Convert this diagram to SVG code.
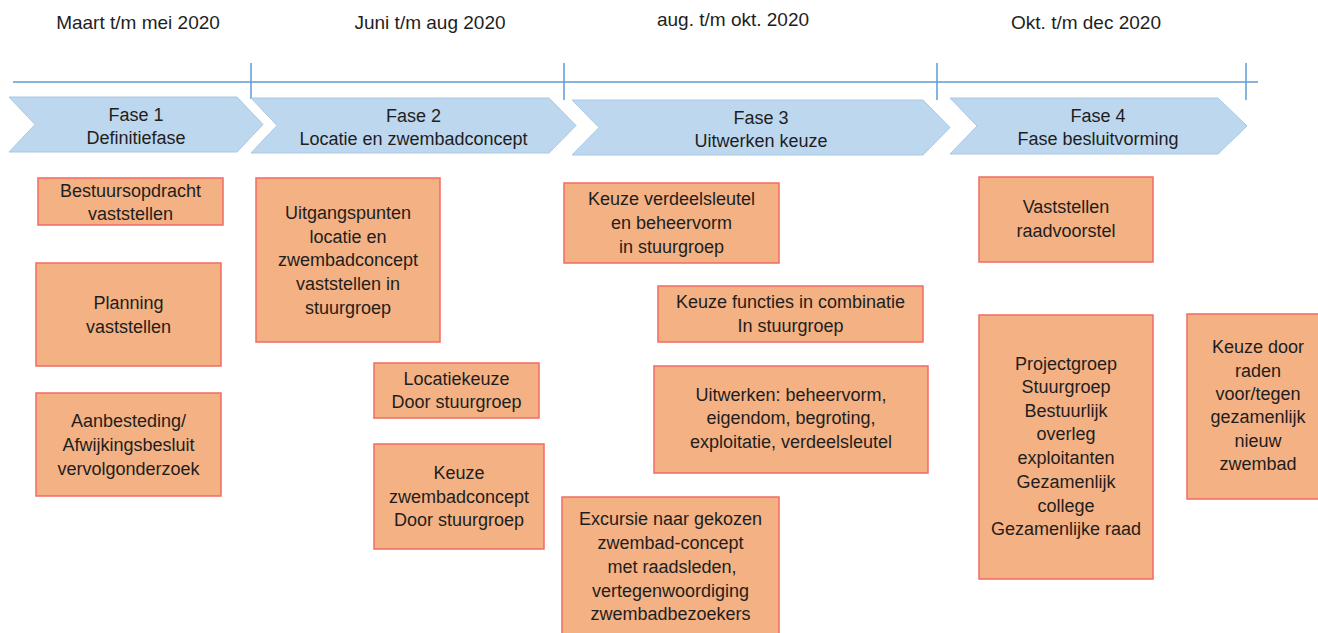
<svg xmlns="http://www.w3.org/2000/svg" width="1318" height="633" viewBox="0 0 1318 633">
<style>
  text { font-family: "Liberation Sans", Arial, sans-serif; font-size: 18px; fill: #1e1e1e; text-anchor: middle; }
  .period { font-size: 19px; }
  .phase { fill: #BDD7EE; stroke: #A8C8E6; stroke-width: 1; }
  .box { fill: #F4B183; stroke: #F26B63; stroke-width: 1.5; }
  .axis { stroke: #5B9BD5; stroke-width: 1.5; fill: none; }
</style>
<rect width="1318" height="633" fill="#ffffff"/>

<g id="periods">
  <text class="period" x="138" y="29">Maart t/m mei 2020</text>
  <text class="period" x="430" y="29">Juni t/m aug 2020</text>
  <text class="period" x="733" y="26">aug. t/m okt. 2020</text>
  <text class="period" x="1086" y="29">Okt. t/m dec 2020</text>
</g>

<g id="connectors">
  <line class="axis" x1="13" y1="82" x2="1258" y2="82"/>
  <line class="axis" x1="251" y1="63" x2="251" y2="99"/>
  <line class="axis" x1="564" y1="63" x2="564" y2="100"/>
  <line class="axis" x1="937" y1="63" x2="937" y2="100"/>
  <line class="axis" x1="1246" y1="63" x2="1246" y2="100"/>
</g>

<g id="fase1">
  <polygon class="phase" points="9,97 237,97 263,124.5 237,152 9,152 35,124.5"/>
  <text x="136" y="121">Fase 1</text>
  <text x="136" y="144">Definitiefase</text>
</g>
<g id="fase2">
  <polygon class="phase" points="251,98 549,98 576,125.5 549,153 251,153 277,125.5"/>
  <text x="413.5" y="122">Fase 2</text>
  <text x="413.5" y="145">Locatie en zwembadconcept</text>
</g>
<g id="fase3">
  <polygon class="phase" points="572,100 923,100 950,127.5 923,155 572,155 599,127.5"/>
  <text x="761" y="124">Fase 3</text>
  <text x="761" y="147">Uitwerken keuze</text>
</g>
<g id="fase4">
  <polygon class="phase" points="950,98 1218,98 1247,126 1218,154 950,154 977,126"/>
  <text x="1098" y="122">Fase 4</text>
  <text x="1098" y="145">Fase besluitvorming</text>
</g>

<g id="bestuursopdracht">
  <rect class="box" x="38" y="178" width="185" height="47"/>
  <text x="130.5" y="197">Bestuursopdracht</text>
  <text x="130.5" y="220">vaststellen</text>
</g>
<g id="planning">
  <rect class="box" x="36" y="263" width="185" height="103"/>
  <text x="128.5" y="309">Planning</text>
  <text x="128.5" y="333">vaststellen</text>
</g>
<g id="aanbesteding">
  <rect class="box" x="36" y="393" width="185" height="103"/>
  <text x="128.5" y="427">Aanbesteding/</text>
  <text x="128.5" y="451">Afwijkingsbesluit</text>
  <text x="128.5" y="475">vervolgonderzoek</text>
</g>

<g id="uitgangspunten">
  <rect class="box" x="256" y="178" width="184" height="164"/>
  <text x="348" y="219">Uitgangspunten</text>
  <text x="348" y="243">locatie en</text>
  <text x="348" y="266">zwembadconcept</text>
  <text x="348" y="290">vaststellen in</text>
  <text x="348" y="314">stuurgroep</text>
</g>
<g id="locatiekeuze">
  <rect class="box" x="374" y="363" width="165" height="55"/>
  <text x="456.5" y="385">Locatiekeuze</text>
  <text x="456.5" y="408">Door stuurgroep</text>
</g>
<g id="keuze-zwembadconcept">
  <rect class="box" x="374" y="444" width="170" height="105"/>
  <text x="459" y="479">Keuze</text>
  <text x="459" y="503">zwembadconcept</text>
  <text x="459" y="526">Door stuurgroep</text>
</g>

<g id="keuze-verdeelsleutel">
  <rect class="box" x="564" y="183" width="215" height="80"/>
  <text x="671.5" y="205">Keuze verdeelsleutel</text>
  <text x="671.5" y="229">en beheervorm</text>
  <text x="671.5" y="253">in stuurgroep</text>
</g>
<g id="keuze-functies">
  <rect class="box" x="658" y="286" width="265" height="56"/>
  <text x="790.5" y="308">Keuze functies in combinatie</text>
  <text x="790.5" y="332">In stuurgroep</text>
</g>
<g id="uitwerken">
  <rect class="box" x="654" y="366" width="274" height="107"/>
  <text x="791" y="401">Uitwerken: beheervorm,</text>
  <text x="791" y="424">eigendom, begroting,</text>
  <text x="791" y="448">exploitatie, verdeelsleutel</text>
</g>
<g id="excursie">
  <rect class="box" x="562" y="497" width="217" height="145"/>
  <text x="670.5" y="525">Excursie naar gekozen</text>
  <text x="670.5" y="549">zwembad-concept</text>
  <text x="672" y="573">met raadsleden,</text>
  <text x="670.5" y="597">vertegenwoordiging</text>
  <text x="670.5" y="620">zwembadbezoekers</text>
</g>

<g id="vaststellen-raadvoorstel">
  <rect class="box" x="979" y="177" width="174" height="85"/>
  <text x="1066" y="213">Vaststellen</text>
  <text x="1066" y="237">raadvoorstel</text>
</g>
<g id="projectgroep">
  <rect class="box" x="979" y="315" width="174" height="264"/>
  <text x="1066" y="370">Projectgroep</text>
  <text x="1066" y="393">Stuurgroep</text>
  <text x="1066" y="417">Bestuurlijk</text>
  <text x="1066" y="440">overleg</text>
  <text x="1066" y="464">exploitanten</text>
  <text x="1066" y="488">Gezamenlijk</text>
  <text x="1066" y="512">college</text>
  <text x="1066" y="535">Gezamenlijke raad</text>
</g>
<g id="keuze-door-raden">
  <rect class="box" x="1187" y="314" width="143" height="185"/>
  <text x="1258" y="353">Keuze door</text>
  <text x="1258" y="377">raden</text>
  <text x="1258" y="400">voor/tegen</text>
  <text x="1258" y="423">gezamenlijk</text>
  <text x="1258" y="447">nieuw</text>
  <text x="1258" y="470">zwembad</text>
</g>
</svg>
